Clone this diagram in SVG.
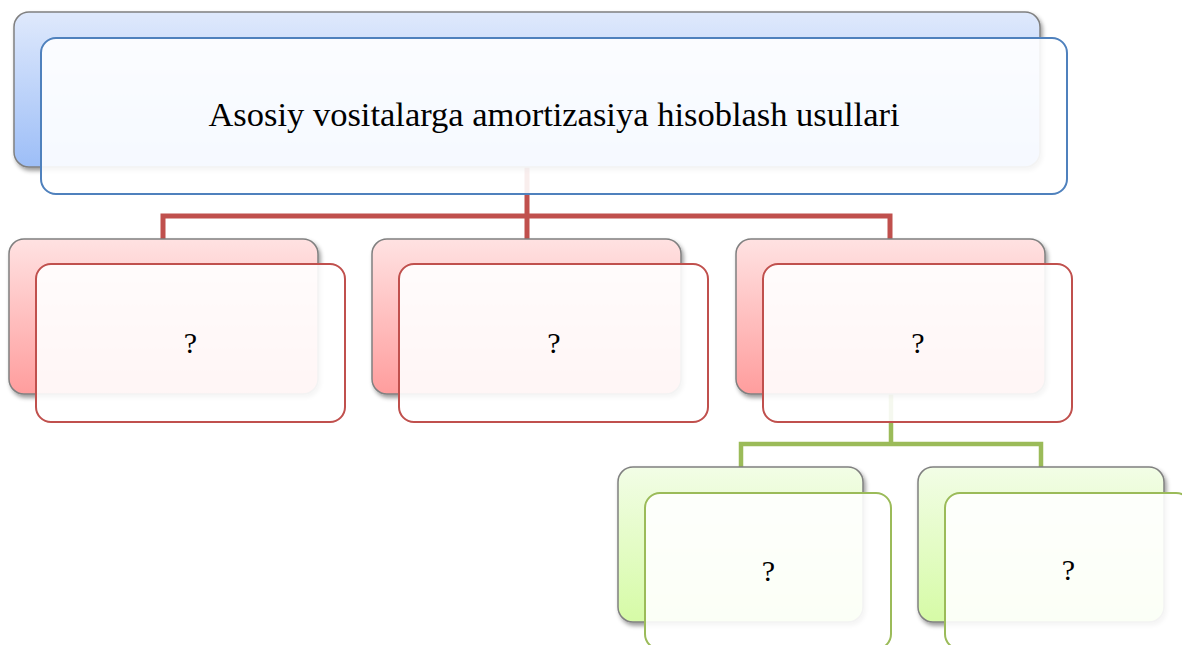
<svg xmlns="http://www.w3.org/2000/svg" width="1182" height="645" viewBox="0 0 1182 645">
<defs>
<linearGradient id="gBlue" x1="0" y1="0" x2="0" y2="1"><stop offset="0" stop-color="#dfe9fc"/><stop offset="1" stop-color="#9dbef7"/></linearGradient>
<linearGradient id="gRed" x1="0" y1="0" x2="0" y2="1"><stop offset="0" stop-color="#ffe2e2"/><stop offset="1" stop-color="#ff9d9d"/></linearGradient>
<linearGradient id="gGreen" x1="0" y1="0" x2="0" y2="1"><stop offset="0" stop-color="#f2fde6"/><stop offset="1" stop-color="#d6fba6"/></linearGradient>
<filter id="sh" x="-5%" y="-5%" width="115%" height="125%"><feDropShadow dx="2" dy="3" stdDeviation="2.2" flood-color="#000" flood-opacity="0.4"/></filter>
</defs>
<style>
.back{stroke:#808080;stroke-width:1.5;filter:url(#sh)}
.front{fill:#ffffff;fill-opacity:0.9;stroke-width:2}
.fb{stroke:#4f81bd}
.fr{stroke:#c0504d}
.fg{stroke:#9bbb59}
.lr{fill:none;stroke:#c0504d;stroke-width:5}
.lg{fill:none;stroke:#9bbb59;stroke-width:4.5}
text{font-family:"Liberation Serif","Times New Roman",serif;fill:#000;text-anchor:middle}
.t1{font-size:34.5px}
.t2{font-size:30px}
</style>
<rect width="1182" height="645" fill="#ffffff"/>
<g id="connectors">
<path class="lr" d="M527,167 V216 M163,240 V216 H890 V240 M527,216 V240"/>
<path class="lg" d="M891,394 V444 M741,468 V444 H1041 V468"/>
</g>
<g id="root">
<rect class="back" x="14" y="12" width="1026" height="155" rx="15" fill="url(#gBlue)"/>
<rect class="front fb" x="41" y="38" width="1026" height="156" rx="15"/>
<text class="t1" x="554" y="126">Asosiy vositalarga amortizasiya hisoblash usullari</text>
</g>
<g id="m1">
<rect class="back" x="9" y="239" width="309" height="155" rx="15" fill="url(#gRed)"/>
<rect class="front fr" x="36" y="264" width="309" height="158" rx="15"/>
<text class="t2" x="190.5" y="353">?</text>
</g>
<g id="m2">
<rect class="back" x="372" y="239" width="309" height="155" rx="15" fill="url(#gRed)"/>
<rect class="front fr" x="399" y="264" width="309" height="158" rx="15"/>
<text class="t2" x="554" y="353">?</text>
</g>
<g id="m3">
<rect class="back" x="736" y="239" width="309" height="155" rx="15" fill="url(#gRed)"/>
<rect class="front fr" x="763" y="264" width="309" height="158" rx="15"/>
<text class="t2" x="918" y="353">?</text>
</g>
<g id="s1">
<rect class="back" x="618" y="467" width="245" height="155" rx="15" fill="url(#gGreen)"/>
<rect class="front fg" x="645" y="493" width="246" height="156" rx="15"/>
<text class="t2" x="768.5" y="581">?</text>
</g>
<g id="s2">
<rect class="back" x="918" y="467" width="246" height="155" rx="15" fill="url(#gGreen)"/>
<rect class="front fg" x="945" y="493" width="246" height="156" rx="15"/>
<text class="t2" x="1068.5" y="580">?</text>
</g>
</svg>
